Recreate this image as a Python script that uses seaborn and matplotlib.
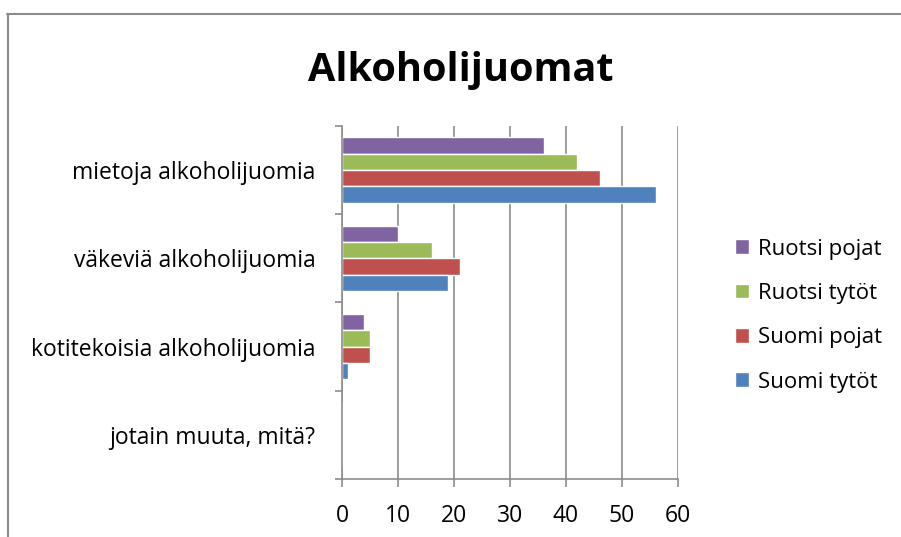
import seaborn as sns
import matplotlib.pyplot as plt
import pandas as pd
from matplotlib.lines import Line2D

# categories (top to bottom) and series values
categories = ['mietoja alkoholijuomia', 'väkeviä alkoholijuomia',
              'kotitekoisia alkoholijuomia', 'jotain muuta, mitä?']
ruotsi_pojat = [36, 10, 4, 0]
ruotsi_tytot = [42, 16, 5, 0]
suomi_pojat = [46, 21, 5, 0]
suomi_tytot = [56, 19, 1, 0]
series = ['Ruotsi pojat', 'Ruotsi tytöt', 'Suomi pojat', 'Suomi tytöt']
colors = ['#8064A2', '#9BBB59', '#C0504D', '#4F81BD']
x_ticks = [0, 10, 20, 30, 40, 50, 60]

rows = []
for name, vals in zip(series, [ruotsi_pojat, ruotsi_tytot, suomi_pojat, suomi_tytot]):
    for cat, v in zip(categories, vals):
        rows.append({'kategoria': cat, 'ryhmä': name, 'arvo': v})
df = pd.DataFrame(rows)

sns.set_style('white')
plt.rcParams['font.family'] = ['Open Sans', 'DejaVu Sans']
plt.rcParams['text.color'] = 'black'
plt.rcParams['xtick.labelcolor'] = 'black'
plt.rcParams['ytick.labelcolor'] = 'black'

fig = plt.figure(figsize=(9.01, 5.37), dpi=100)
ax = fig.add_axes([0.3796, 0.108, 0.3729, 0.6574])

sns.barplot(data=df, y='kategoria', x='arvo', hue='ryhmä', order=categories,
            hue_order=series, palette=colors, orient='h', width=0.74,
            saturation=1, errorbar=None, ax=ax, legend=True)

ax.set_xlim(0, 60)
ax.set_xticks(x_ticks)
ax.set_ylim(len(categories) - 0.5, -0.5)
ax.set_xlabel('')
ax.set_ylabel('')
ax.grid(axis='x', color='#8c8c8c', linewidth=1.2)
ax.set_axisbelow(True)
for s in ['top', 'right']:
    ax.spines[s].set_visible(False)
for s in ['left', 'bottom']:
    ax.spines[s].set_color('#8c8c8c')
    ax.spines[s].set_linewidth(1.2)

# y ticks at category boundaries, labels centred
ax.set_yticks([i - 0.5 for i in range(len(categories) + 1)], minor=True)
ax.tick_params(axis='y', which='minor', length=5, color='#8c8c8c', width=1.2, direction='out', left=True)
ax.tick_params(axis='y', which='major', length=0, labelsize=16.5, pad=19)
ax.tick_params(axis='x', length=6, color='#8c8c8c', width=1.2, direction='out', labelsize=16.5, pad=12, bottom=True)

handles, labels = ax.get_legend_handles_labels()
ax.legend(handles, labels, loc='center left', bbox_to_anchor=(1.11, 0.463), frameon=False,
          fontsize=16, handlelength=0.63, handleheight=0.63, handletextpad=0.4, labelspacing=1.05)

fig.text(0.511, 0.868, 'Alkoholijuomat', ha='center', va='center', fontsize=28.5, fontweight='bold')

# chart frame
fig.add_artist(Line2D([7 / 901, 1], [1 - 14 / 537, 1 - 14 / 537], color='#8c8c8c', linewidth=1.5))
fig.add_artist(Line2D([8 / 901, 8 / 901], [0, 1 - 14 / 537], color='#8c8c8c', linewidth=1.5))

fig.savefig('out.png', dpi=100)
